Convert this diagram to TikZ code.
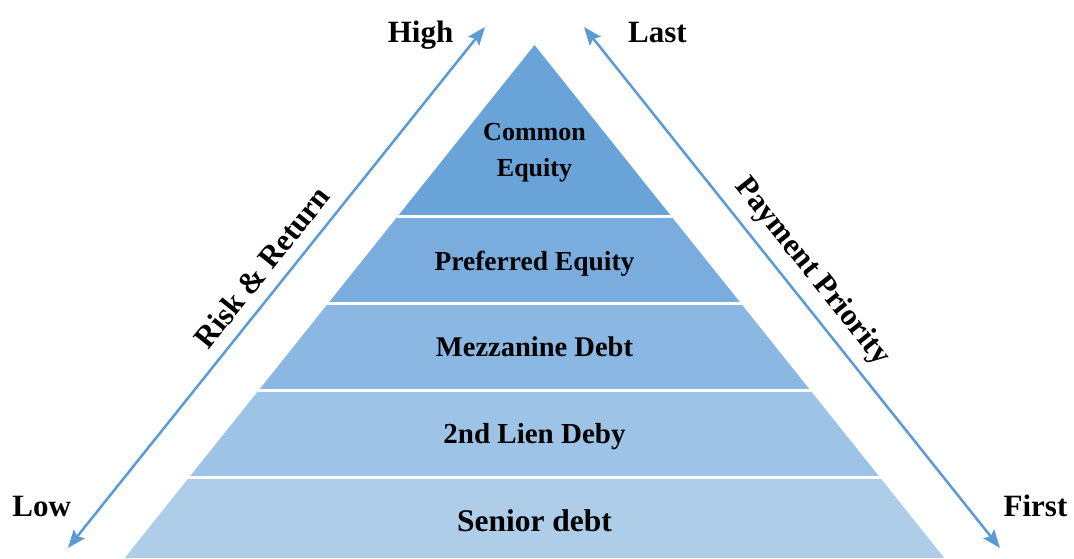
\documentclass[tikz,border=0pt]{standalone}
\usepackage{fontspec}
\setmainfont{Liberation Serif}
\usetikzlibrary{arrows.meta}
\definecolor{arrowblue}{RGB}{91,155,213}
\definecolor{tierA}{RGB}{106,163,216}
\definecolor{tierB}{RGB}{122,173,222}
\definecolor{tierC}{RGB}{139,184,226}
\definecolor{tierD}{RGB}{157,195,230}
\definecolor{tierE}{RGB}{174,205,233}
\tikzset{
  axisarrow/.style={draw=arrowblue, line width=2.5pt,
    {Stealth[length=18pt,width=14pt,inset=3pt]}-{Stealth[length=18pt,width=14pt,inset=3pt]}},
  tierlabel/.style={font=\bfseries, text=black, anchor=base, inner sep=0pt},
  endlabel/.style={font=\bfseries\fontsize{31}{36}\selectfont, anchor=base, inner sep=0pt},
  axislabel/.style={font=\bfseries\fontsize{31}{36}\selectfont, anchor=center, inner sep=0pt},
  divider/.style={draw=white, line width=3pt}
}
\begin{document}
\begin{tikzpicture}[x=1pt,y=-1pt]
\useasboundingbox (0,0) rectangle (1074,558);

% pyramid outline
\coordinate (apex) at (534.5,45);
\coordinate (baseL) at (124.7,558);
\coordinate (baseR) at (944.3,558);

\begin{scope}
  \clip (apex) -- (baseR) -- (baseL) -- cycle;
  \fill[tierA] (0,0) rectangle (1074,216.5);
  \fill[tierB] (0,216.5) rectangle (1074,303.5);
  \fill[tierC] (0,303.5) rectangle (1074,390.5);
  \fill[tierD] (0,390.5) rectangle (1074,477.5);
  \fill[tierE] (0,477.5) rectangle (1074,560);
  \draw[divider] (0,216.5) -- (1074,216.5);
  \draw[divider] (0,303.5) -- (1074,303.5);
  \draw[divider] (0,390.5) -- (1074,390.5);
  \draw[divider] (0,477.5) -- (1074,477.5);
\end{scope}

% tier labels
\node[tierlabel, font=\bfseries\fontsize{26}{38}\selectfont] (common) at (534.5,140) {Common};
\node[tierlabel, font=\bfseries\fontsize{26}{38}\selectfont] (equity) at (534.5,176.5) {Equity};
\node[tierlabel, font=\bfseries\fontsize{27.5}{32}\selectfont] (preferred) at (534.5,270) {Preferred Equity};
\node[tierlabel, font=\bfseries\fontsize{28.5}{32}\selectfont] (mezz) at (534.5,356.5) {Mezzanine Debt};
\node[tierlabel, font=\bfseries\fontsize{29}{32}\selectfont] (lien) at (534.5,443) {2nd Lien Deby};
\node[tierlabel, font=\bfseries\fontsize{31.5}{36}\selectfont] (senior) at (534.5,531.5) {Senior debt};

% axis arrows
\coordinate (riskLow) at (68,548);
\coordinate (riskHigh) at (485,27);
\coordinate (payLast) at (584,27);
\coordinate (payFirst) at (1000,548);
\draw[axisarrow] (riskLow) -- (riskHigh);
\draw[axisarrow] (payLast) -- (payFirst);

% end labels
\node[endlabel] (high) at (420.5,42) {High};
\node[endlabel] (last) at (657.5,42) {Last};
\node[endlabel] (low) at (41.7,516.5) {Low};
\node[endlabel] (first) at (1035.5,516.5) {First};

% axis titles
\node[axislabel, rotate=51.3] (risk) at (262,267) {Risk \& Return};
\node[axislabel, rotate=-51.3] (priority) at (812,272) {Payment Priority};
\end{tikzpicture}
\end{document}
